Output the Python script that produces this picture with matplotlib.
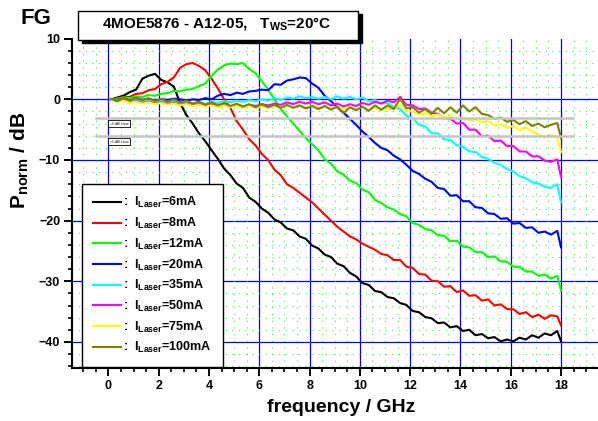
import matplotlib
matplotlib.use("Agg")
import matplotlib.pyplot as plt
import numpy as np
from matplotlib.patches import Rectangle
from matplotlib.ticker import MultipleLocator

plt.rcParams['font.family'] = ['Liberation Sans', 'DejaVu Sans']
plt.rcParams['font.weight'] = 'bold'
plt.rcParams['mathtext.fontset'] = 'custom'
plt.rcParams['mathtext.rm'] = 'Liberation Sans'
plt.rcParams['mathtext.bf'] = 'Liberation Sans:bold'
plt.rcParams['mathtext.it'] = 'Liberation Sans:italic'

# frequency axis of the measured S21 traces (GHz)
freq = np.append(np.arange(0.1, 17.9, 0.25), 18.0)

# normalised response in dB, one trace per laser current
p_6ma = [0.0, 0.3, 0.6, 1.2, 1.6, 3.4, 3.9, 4.2, 3.2, 2.8, 2.1, -0.6, -2.6, -4.0, -5.6, -6.9,
         -8.4, -9.8, -11.4, -12.5, -13.9, -14.6, -16.2, -16.9, -18.0, -18.7, -19.8, -20.3,
         -21.3, -21.6, -22.6, -23.0, -24.1, -24.6, -25.6, -26.0, -27.1, -27.5, -28.6, -29.2,
         -30.3, -30.6, -31.6, -31.8, -32.6, -32.8, -33.6, -33.9, -34.9, -35.1, -35.9, -36.1,
         -36.9, -36.8, -37.6, -37.4, -38.2, -38.0, -38.9, -38.7, -39.4, -39.2, -39.9, -39.6,
         -39.9, -39.3, -39.6, -38.9, -39.3, -38.6, -38.9, -38.2, -39.9]
p_8ma = [0.0, 0.2, 0.4, 0.4, 0.9, 1.0, 1.5, 1.7, 2.5, 2.9, 3.6, 5.2, 5.8, 6.0, 5.5, 4.8,
         3.4, 1.8, 0.0, -1.4, -3.6, -5.0, -6.6, -7.6, -9.0, -10.0, -11.6, -12.5, -14.0,
         -14.6, -15.4, -16.2, -17.0, -18.0, -19.0, -20.0, -21.0, -21.8, -22.6, -23.1, -23.8,
         -24.3, -24.8, -25.5, -25.7, -26.5, -26.5, -27.6, -27.8, -28.8, -28.9, -29.9, -30.0,
         -30.9, -30.8, -31.8, -31.5, -32.4, -32.3, -33.2, -33.0, -34.0, -33.8, -34.6, -34.6,
         -35.4, -35.1, -35.9, -35.5, -36.2, -35.6, -35.8, -37.3]
p_12ma = [0.0, 0.1, 0.3, 0.2, 0.5, 0.4, 0.7, 0.6, 0.9, 1.0, 1.4, 1.3, 1.6, 1.7, 2.2, 2.6,
          3.9, 4.9, 5.6, 5.9, 5.8, 6.0, 5.0, 4.3, 3.0, 1.6, 0.0, -1.6, -2.8, -4.0, -5.2,
          -6.4, -7.4, -8.4, -9.9, -10.6, -11.9, -12.4, -13.4, -13.8, -14.9, -15.3, -16.6,
          -17.1, -17.8, -18.2, -18.9, -19.3, -20.4, -20.7, -21.4, -21.6, -22.4, -22.5, -23.4,
          -23.3, -24.3, -24.4, -25.2, -25.2, -26.0, -25.9, -26.7, -26.8, -27.6, -27.6, -28.4,
          -28.4, -29.1, -28.9, -29.6, -29.1, -31.5]
p_20ma = [0.0, -0.1, 0.1, -0.2, 0.1, -0.1, 0.1, -0.2, 0.0, -0.1, 0.1, 0.0, -0.2, 0.0, -0.1,
          0.2, 0.0, 0.6, 0.9, 0.7, 1.1, 0.9, 1.3, 1.4, 1.6, 1.5, 2.5, 2.4, 3.1, 3.3, 3.6, 3.5,
          2.6, 1.9, 0.6, -0.3, -1.3, -2.2, -3.2, -4.2, -5.3, -6.2, -7.2, -8.0, -8.4, -9.3,
          -9.9, -10.8, -11.8, -12.3, -13.1, -13.6, -14.6, -14.8, -15.9, -15.8, -16.8, -16.8,
          -17.8, -17.9, -18.8, -18.9, -19.7, -19.6, -20.5, -20.4, -21.2, -21.1, -22.0, -21.8,
          -22.3, -21.7, -24.4]
p_35ma = [0.0, -0.2, 0.0, -0.3, -0.1, -0.4, -0.2, -0.4, -0.3, -0.5, -0.3, -0.6, -0.4, -0.7,
          -0.5, -0.7, -0.4, -0.6, -0.3, -0.5, -0.2, -0.4, -0.1, -0.3, 0.0, -0.2, 0.2, -0.1,
          0.3, 0.1, 0.5, 0.2, 0.4, 0.1, 0.4, 0.0, 0.5, 0.1, 0.4, 0.0, 0.3, -0.3, -0.1, -0.7,
          -0.6, -1.3, -1.6, -2.7, -3.1, -4.2, -4.5, -5.6, -5.6, -6.6, -6.7, -7.6, -7.8, -8.6,
          -8.7, -9.5, -9.8, -10.5, -10.8, -11.5, -11.9, -12.7, -13.0, -13.7, -13.9, -14.4,
          -14.6, -14.0, -17.0]
p_50ma = [0.0, -0.3, -0.1, -0.5, -0.3, -0.6, -0.4, -0.7, -0.5, -0.8, -0.6, -0.9, -0.7, -1.0,
          -0.8, -1.1, -0.8, -1.1, -0.9, -1.2, -0.9, -1.2, -0.9, -1.1, -0.8, -1.0, -0.7, -0.9,
          -0.5, -0.8, -0.4, -0.7, -0.4, -0.8, -0.5, -1.0, -0.7, -1.2, -0.8, -1.1, -0.6, -0.9,
          -0.4, -0.7, -0.2, -0.5, 0.4, -0.9, -1.0, -1.6, -1.5, -2.2, -2.4, -3.1, -3.2, -4.0,
          -3.9, -5.0, -5.0, -6.1, -6.0, -6.9, -6.8, -7.7, -7.7, -8.6, -8.6, -9.4, -9.4, -10.1,
          -10.3, -9.9, -12.8]
p_75ma = [0.0, -0.4, -0.2, -0.6, -0.4, -0.7, -0.5, -0.8, -0.6, -0.9, -0.7, -1.0, -0.8, -1.1,
          -0.9, -1.2, -1.0, -1.3, -1.0, -1.3, -1.1, -1.4, -1.1, -1.4, -1.2, -1.4, -1.1, -1.4,
          -1.1, -1.3, -1.0, -1.3, -1.0, -1.4, -1.1, -1.5, -1.2, -1.6, -1.3, -1.6, -1.3, -1.7,
          -1.4, -1.8, -1.5, -1.6, -0.8, -1.9, -2.0, -2.5, -2.3, -2.8, -2.5, -3.0, -2.7, -3.2,
          -3.0, -3.5, -3.3, -3.8, -3.6, -4.3, -4.1, -4.7, -4.4, -5.1, -4.7, -5.3, -5.8, -6.3,
          -5.9, -6.2, -8.7]
p_100ma = [0.1, -0.3, 0.2, -0.2, 0.3, -0.1, 0.2, -0.3, 0.1, -0.4, 0.0, -0.5, -0.2, -0.7,
           -0.4, -0.9, -0.5, -1.0, -0.6, -1.1, -0.7, -1.2, -0.8, -1.3, -0.8, -1.3, -0.9, -1.4,
           -0.9, -1.4, -1.0, -1.5, -1.1, -1.6, -1.1, -1.7, -1.2, -2.3, -1.3, -1.8, -1.2, -1.9,
           -1.0, -1.7, -1.0, -1.6, 0.1, -1.5, -1.3, -2.2, -1.6, -2.4, -1.4, -2.3, -1.3, -2.2,
           -1.0, -2.0, -1.3, -2.4, -2.6, -3.2, -3.0, -3.7, -3.4, -4.1, -3.6, -4.4, -4.0, -4.6,
           -4.2, -3.9, -6.4]

currents = ['6mA', '8mA', '12mA', '20mA', '35mA', '50mA', '75mA', '100mA']
traces = [p_6ma, p_8ma, p_12ma, p_20ma, p_35ma, p_50ma, p_75ma, p_100ma]
colors = ['#000000', '#ff0000', '#00ff00', '#0000ff', '#00ffff', '#ff00ff', '#ffff00', '#808000']

ref_levels = [-3, -6]
ref_names = ['-3 dB Line', '-6 dB Line']

fig = plt.figure(figsize=(5.98, 4.21), dpi=100)
ax = fig.add_axes([72 / 598, 53 / 421, 526 / 598, 329.3 / 421])
ax.set_xlim(-1.45, 19.47)
ax.set_ylim(-44.3, 10)

ax.xaxis.set_major_locator(MultipleLocator(2))
ax.xaxis.set_minor_locator(MultipleLocator(0.5))
ax.yaxis.set_major_locator(MultipleLocator(10))
ax.yaxis.set_minor_locator(MultipleLocator(2))

# dotted green minor grid, solid blue major grid
ax.grid(which='minor', color='#33ee33', linestyle=(0, (1, 5)), linewidth=0.8)
for xv in range(0, 19, 2):
    ax.axvline(xv, color='#0000ff', lw=0.9, zorder=1)
for yv in range(-40, 1, 10):
    ax.axhline(yv, color='#0000ff', lw=0.9, zorder=1)

lines = []
for cur, tr, c in zip(currents, traces, colors):
    ln, = ax.plot(freq, tr, color=c, lw=1.5, zorder=3,
                  label=r':  $\mathbf{I}_{\mathbf{Laser}}$=' + cur)
    lines.append(ln)

for lvl, name in zip(ref_levels, ref_names):
    ax.plot([-0.49, 18.47], [lvl, lvl], color='#c4c4c4', lw=1.8, zorder=4)
    ax.text(0.42, lvl - 1.0, name, fontsize=3, fontweight='normal', ha='center', va='center',
            zorder=5, bbox=dict(boxstyle='square,pad=0.35', fc='white', ec='black', lw=0.6))

for side in ['top', 'right']:
    ax.spines[side].set_visible(False)
for side in ['left', 'bottom']:
    ax.spines[side].set_linewidth(1.5)
ax.tick_params(which='major', direction='out', length=5.5, width=1.4, labelsize=9, pad=3)
ax.tick_params(which='minor', direction='out', length=3, width=1.2)
ax.set_xticks(range(0, 19, 2))
ax.set_xticklabels([str(v) for v in range(0, 19, 2)])

leg = ax.legend(handles=lines, loc='upper left', bbox_to_anchor=(0.019, 0.5588),
                fontsize=9, frameon=True, fancybox=False, framealpha=1,
                edgecolor='black', handlelength=2.2, handletextpad=0.2,
                labelspacing=0.45, borderpad=0.9, borderaxespad=0)
leg.get_frame().set_linewidth(1.0)
leg.set_zorder(6)

# title box with drop shadow
fig.patches.append(Rectangle((82 / 598, (421 - 43) / 421), 280 / 598, 29 / 421,
                             transform=fig.transFigure, fc='black', ec='black', zorder=1))
fig.patches.append(Rectangle((78 / 598, (421 - 40) / 421), 280 / 598, 29 / 421,
                             transform=fig.transFigure, fc='white', ec='black', lw=1.0, zorder=2))
fig.text(217 / 598, 1 - 24 / 421, r'4MOE5876 - A12-05,   T$_{\mathrm{WS}}$=20°C',
         fontsize=11, ha='center', va='center', zorder=3)

fig.text(36 / 598, 1 - 18 / 421, 'FG', fontsize=16, ha='center', va='center')
fig.text(20 / 598, 1 - 160 / 421, r'$\mathbf{P}_{\mathbf{norm}}$ / dB', fontsize=15,
         rotation=90, ha='center', va='center')
fig.text(341 / 598, 1 - 408 / 421, 'frequency / GHz', fontsize=14, ha='center', va='center')

fig.savefig('out.png', dpi=100)
